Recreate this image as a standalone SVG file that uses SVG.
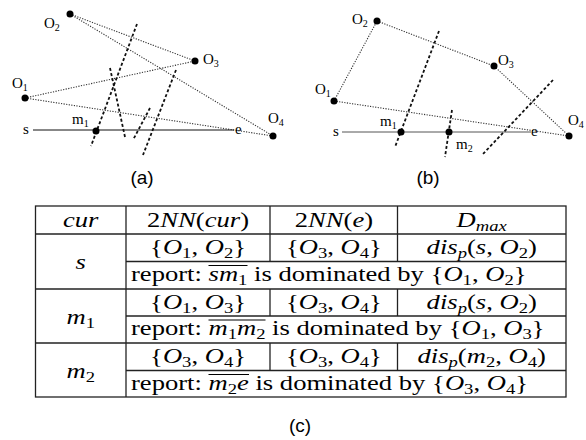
<svg xmlns="http://www.w3.org/2000/svg" width="586" height="440" viewBox="0 0 586 440">
<style>
.dot{stroke:#333;stroke-width:1.1;stroke-dasharray:1.2 1.4;fill:none}
.bis{stroke:#111;stroke-width:1.8;stroke-dasharray:3 2.2;fill:none}
.seg{stroke:#111;stroke-width:1;fill:none}
.pt{fill:#000}
.lbl{font-family:"Liberation Serif","Times New Roman",serif;font-size:15px;fill:#000}
.ls{font-size:10px}
.cap{font-family:"Liberation Sans",Arial,sans-serif;font-size:19px;fill:#000}
.t{font-family:"Liberation Serif","Times New Roman",serif;font-size:20px;fill:#000}
.i{font-style:italic}
.s{font-size:14px}
.grid{stroke:#222;stroke-width:1.3;fill:none}
.ov{stroke:#000;stroke-width:1}
</style>

<!-- connectors -->
<g id="connectors">
  <!-- panel a -->
  <line class="dot" x1="70" y1="14" x2="195" y2="61"/>
  <line class="dot" x1="70" y1="14" x2="273" y2="136"/>
  <line class="dot" x1="25" y1="98" x2="195" y2="61"/>
  <line class="dot" x1="25" y1="98" x2="273" y2="136"/>
  <line class="seg" x1="33" y1="130" x2="234" y2="130"/>
  <line class="bis" x1="137" y1="24" x2="91" y2="146"/>
  <line class="bis" x1="110" y1="68" x2="125" y2="137"/>
  <line class="bis" x1="176" y1="70" x2="143" y2="155"/>
  <line class="bis" x1="150" y1="108" x2="133" y2="140"/>
  <!-- panel b -->
  <line class="dot" x1="334" y1="101" x2="377" y2="21"/>
  <line class="dot" x1="377" y1="21" x2="494" y2="66"/>
  <line class="dot" x1="494" y1="66" x2="569" y2="136"/>
  <line class="dot" x1="334" y1="101" x2="569" y2="136"/>
  <line class="seg" x1="342" y1="132" x2="531" y2="132" style="stroke:#555"/>
  <line class="bis" x1="439" y1="31" x2="395" y2="147"/>
  <line class="bis" x1="452" y1="110" x2="445" y2="157"/>
  <line class="bis" x1="553" y1="80" x2="483" y2="154"/>
</g>

<!-- panel a nodes -->
<g id="a_O2"><circle class="pt" cx="70" cy="14" r="3.5"/><text class="lbl" x="44" y="28">O<tspan class="ls" dy="3">2</tspan></text></g>
<g id="a_O3"><circle class="pt" cx="195" cy="61" r="3.5"/><text class="lbl" x="203" y="64">O<tspan class="ls" dy="3">3</tspan></text></g>
<g id="a_O1"><circle class="pt" cx="25" cy="98" r="3.5"/><text class="lbl" x="12" y="88">O<tspan class="ls" dy="3">1</tspan></text></g>
<g id="a_O4"><circle class="pt" cx="273" cy="136" r="3.5"/><text class="lbl" x="268" y="123">O<tspan class="ls" dy="3">4</tspan></text></g>
<g id="a_m1"><circle class="pt" cx="96" cy="131" r="3.5"/><text class="lbl" x="72" y="124">m<tspan class="ls" dy="3">1</tspan></text></g>
<g id="a_s"><text class="lbl" x="23" y="134">s</text></g>
<g id="a_e"><text class="lbl" x="235" y="134">e</text></g>
<text class="cap" x="142" y="184" text-anchor="middle">(a)</text>

<!-- panel b nodes -->
<g id="b_O2"><circle class="pt" cx="377" cy="21" r="3.5"/><text class="lbl" x="352" y="24">O<tspan class="ls" dy="3">2</tspan></text></g>
<g id="b_O3"><circle class="pt" cx="494" cy="66" r="3.5"/><text class="lbl" x="498" y="65">O<tspan class="ls" dy="3">3</tspan></text></g>
<g id="b_O1"><circle class="pt" cx="334" cy="101" r="3.5"/><text class="lbl" x="315" y="94">O<tspan class="ls" dy="3">1</tspan></text></g>
<g id="b_O4"><circle class="pt" cx="569" cy="136" r="3.5"/><text class="lbl" x="568" y="125">O<tspan class="ls" dy="3">4</tspan></text></g>
<g id="b_m1"><circle class="pt" cx="401" cy="132" r="3.5"/><text class="lbl" x="380" y="126">m<tspan class="ls" dy="3">1</tspan></text></g>
<g id="b_m2"><circle class="pt" cx="449" cy="132" r="3.5"/><text class="lbl" x="456" y="149">m<tspan class="ls" dy="3">2</tspan></text></g>
<g id="b_s"><text class="lbl" x="333" y="136">s</text></g>
<g id="b_e"><text class="lbl" x="531" y="136">e</text></g>
<text class="cap" x="428" y="184" text-anchor="middle">(b)</text>

<!-- table grid -->
<g id="table">
  <rect class="grid" x="35.5" y="206" width="530.5" height="191"/>
  <line class="grid" x1="35.5" y1="234" x2="566" y2="234"/>
  <line class="grid" x1="35.5" y1="289" x2="566" y2="289"/>
  <line class="grid" x1="35.5" y1="343" x2="566" y2="343"/>
  <line class="grid" x1="126" y1="261.5" x2="566" y2="261.5"/>
  <line class="grid" x1="126" y1="316" x2="566" y2="316"/>
  <line class="grid" x1="126" y1="370.5" x2="566" y2="370.5"/>
  <line class="grid" x1="126" y1="206" x2="126" y2="397"/>
  <line class="grid" x1="270" y1="206" x2="270" y2="261.5"/>
  <line class="grid" x1="270" y1="289" x2="270" y2="316"/>
  <line class="grid" x1="270" y1="343" x2="270" y2="370.5"/>
  <line class="grid" x1="397.5" y1="206" x2="397.5" y2="261.5"/>
  <line class="grid" x1="397.5" y1="289" x2="397.5" y2="316"/>
  <line class="grid" x1="397.5" y1="343" x2="397.5" y2="370.5"/>
  <line class="ov" x1="208.5" y1="265.5" x2="247.5" y2="265.5"/>
  <line class="ov" x1="208.5" y1="320" x2="265.5" y2="320"/>
  <line class="ov" x1="208.5" y1="374.5" x2="249" y2="374.5"/>
</g>

<g id="table-text" transform="scale(1.33,1)">
  <!-- header -->
  <text class="t i" x="60.7" y="227" text-anchor="middle">cur</text>
  <text class="t" x="148.9" y="227" text-anchor="middle">2<tspan class="i">NN</tspan>(<tspan class="i">cur</tspan>)</text>
  <text class="t" x="251.1" y="227" text-anchor="middle">2<tspan class="i">NN</tspan>(<tspan class="i">e</tspan>)</text>
  <text class="t i" x="362.2" y="227" text-anchor="middle">D<tspan class="s" dy="4">max</tspan></text>

  <!-- row s -->
  <text class="t i" x="60.7" y="269.5" text-anchor="middle">s</text>
  <text class="t" x="148.9" y="254" text-anchor="middle">{<tspan class="i">O</tspan><tspan class="s" dy="4">1</tspan><tspan dy="-4">, </tspan><tspan class="i">O</tspan><tspan class="s" dy="4">2</tspan><tspan dy="-4">}</tspan></text>
  <text class="t" x="251.1" y="254" text-anchor="middle">{<tspan class="i">O</tspan><tspan class="s" dy="4">3</tspan><tspan dy="-4">, </tspan><tspan class="i">O</tspan><tspan class="s" dy="4">4</tspan><tspan dy="-4">}</tspan></text>
  <text class="t" x="362.2" y="254" text-anchor="middle"><tspan class="i">dis</tspan><tspan class="s i" dy="4">p</tspan><tspan dy="-4">(</tspan><tspan class="i">s</tspan>, <tspan class="i">O</tspan><tspan class="s" dy="4">2</tspan><tspan dy="-4">)</tspan></text>
  <text class="t" y="281"><tspan x="98.5">report:</tspan><tspan x="156.8" class="i">sm</tspan><tspan class="s" dy="4">1</tspan><tspan x="191" dy="-4">is dominated by</tspan><tspan x="323.8">{</tspan><tspan class="i">O</tspan><tspan class="s" dy="4">1</tspan><tspan dy="-4">, </tspan><tspan class="i">O</tspan><tspan class="s" dy="4">2</tspan><tspan dy="-4">}</tspan></text>

  <!-- row m1 -->
  <text class="t" x="60.7" y="324" text-anchor="middle"><tspan class="i">m</tspan><tspan class="s" dy="4">1</tspan></text>
  <text class="t" x="148.9" y="309" text-anchor="middle">{<tspan class="i">O</tspan><tspan class="s" dy="4">1</tspan><tspan dy="-4">, </tspan><tspan class="i">O</tspan><tspan class="s" dy="4">3</tspan><tspan dy="-4">}</tspan></text>
  <text class="t" x="251.1" y="309" text-anchor="middle">{<tspan class="i">O</tspan><tspan class="s" dy="4">3</tspan><tspan dy="-4">, </tspan><tspan class="i">O</tspan><tspan class="s" dy="4">4</tspan><tspan dy="-4">}</tspan></text>
  <text class="t" x="362.2" y="309" text-anchor="middle"><tspan class="i">dis</tspan><tspan class="s i" dy="4">p</tspan><tspan dy="-4">(</tspan><tspan class="i">s</tspan>, <tspan class="i">O</tspan><tspan class="s" dy="4">2</tspan><tspan dy="-4">)</tspan></text>
  <text class="t" y="335.5"><tspan x="98.5">report:</tspan><tspan x="156.8" class="i">m</tspan><tspan class="s" dy="4">1</tspan><tspan class="i" dy="-4">m</tspan><tspan class="s" dy="4">2</tspan><tspan x="204.6" dy="-4">is dominated by</tspan><tspan x="337.4">{</tspan><tspan class="i">O</tspan><tspan class="s" dy="4">1</tspan><tspan dy="-4">, </tspan><tspan class="i">O</tspan><tspan class="s" dy="4">3</tspan><tspan dy="-4">}</tspan></text>

  <!-- row m2 -->
  <text class="t" x="60.7" y="378" text-anchor="middle"><tspan class="i">m</tspan><tspan class="s" dy="4">2</tspan></text>
  <text class="t" x="148.9" y="363" text-anchor="middle">{<tspan class="i">O</tspan><tspan class="s" dy="4">3</tspan><tspan dy="-4">, </tspan><tspan class="i">O</tspan><tspan class="s" dy="4">4</tspan><tspan dy="-4">}</tspan></text>
  <text class="t" x="251.1" y="363" text-anchor="middle">{<tspan class="i">O</tspan><tspan class="s" dy="4">3</tspan><tspan dy="-4">, </tspan><tspan class="i">O</tspan><tspan class="s" dy="4">4</tspan><tspan dy="-4">}</tspan></text>
  <text class="t" x="362.2" y="363" text-anchor="middle"><tspan class="i">dis</tspan><tspan class="s i" dy="4">p</tspan><tspan dy="-4">(</tspan><tspan class="i">m</tspan><tspan class="s" dy="4">2</tspan><tspan dy="-4">, </tspan><tspan class="i">O</tspan><tspan class="s" dy="4">4</tspan><tspan dy="-4">)</tspan></text>
  <text class="t" y="390"><tspan x="98.5">report:</tspan><tspan x="156.8" class="i">m</tspan><tspan class="s" dy="4">2</tspan><tspan class="i" dy="-4">e</tspan><tspan x="192.1">is dominated by</tspan><tspan x="324.9">{</tspan><tspan class="i">O</tspan><tspan class="s" dy="4">3</tspan><tspan dy="-4">, </tspan><tspan class="i">O</tspan><tspan class="s" dy="4">4</tspan><tspan dy="-4">}</tspan></text>
</g>
<text class="cap" x="300" y="432" text-anchor="middle">(c)</text>
</svg>
